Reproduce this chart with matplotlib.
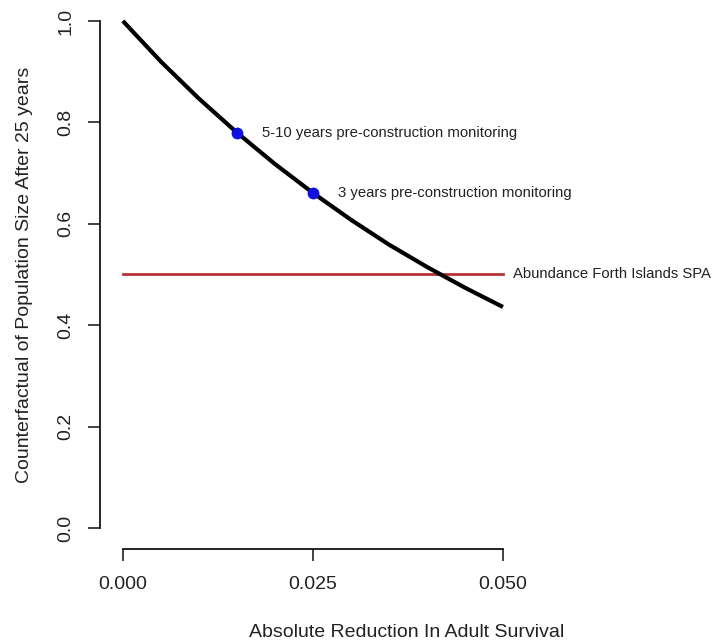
import numpy as np
import matplotlib.pyplot as plt

plt.rcParams['font.family'] = ['Liberation Sans', 'DejaVu Sans']

# curve
reduction = [0.0, 0.005, 0.010, 0.015, 0.020, 0.025, 0.030, 0.035, 0.040, 0.045, 0.050]
counterfactual = [1.0, 0.920, 0.847, 0.780, 0.718, 0.661, 0.608, 0.559, 0.515, 0.474, 0.436]

# monitoring scenarios
scen_x = [0.015, 0.025]
scen_y = [0.780, 0.661]
scen_labels = ['5-10 years pre-construction monitoring', '3 years pre-construction monitoring']

spa_level = 0.5
spa_label = 'Abundance Forth Islands SPA'

W, H = 713, 644
fig = plt.figure(figsize=(W / 100, H / 100), dpi=100)
ax = fig.add_axes([100 / W, (H - 549) / H, (W - 100) / W, 549 / H])

ax.plot(reduction, counterfactual, color='black', lw=3, solid_capstyle='butt', zorder=3)
ax.plot([0, 0.05], [spa_level, spa_level], color='#B8323A', lw=2, zorder=2)
ax.plot(scen_x, scen_y, 'o', color='#1010E0', ms=7.5, zorder=4)
for x, y, s in zip(scen_x, scen_y, scen_labels):
    ax.text(x + 0.0033, y, s, fontsize=10.7, va='center', ha='left', color='#222222')
ax.text(0.0513, spa_level, spa_label, fontsize=10.7, va='center', ha='left', color='#222222')

ax.set_xlim(-0.003, (W - 123) / 7600)
ax.set_ylim(-0.0413, 1.0413)

for side in ['top', 'right']:
    ax.spines[side].set_visible(False)
ax.spines['left'].set_bounds(0, 1)
ax.spines['bottom'].set_bounds(0, 0.05)
ax.spines['left'].set_linewidth(1.2)
ax.spines['bottom'].set_linewidth(1.2)

ax.set_xticks([0, 0.025, 0.05])
ax.set_xticklabels(['0.000', '0.025', '0.050'])
ax.set_yticks([0, 0.2, 0.4, 0.6, 0.8, 1.0])
ax.set_yticklabels(['0.0', '0.2', '0.4', '0.6', '0.8', '1.0'], rotation=90, va='center')
ax.tick_params(length=8.5, width=1.2, labelsize=14, colors='#222222')
ax.tick_params(axis='x', pad=11)
ax.tick_params(axis='y', pad=10)

ax.set_xlabel('Absolute Reduction In Adult Survival', fontsize=14, labelpad=22, color='#222222')
ax.set_ylabel('Counterfactual of Population Size After 25 years', fontsize=14, labelpad=17.5, color='#222222')

fig.savefig('out.png', dpi=100)
